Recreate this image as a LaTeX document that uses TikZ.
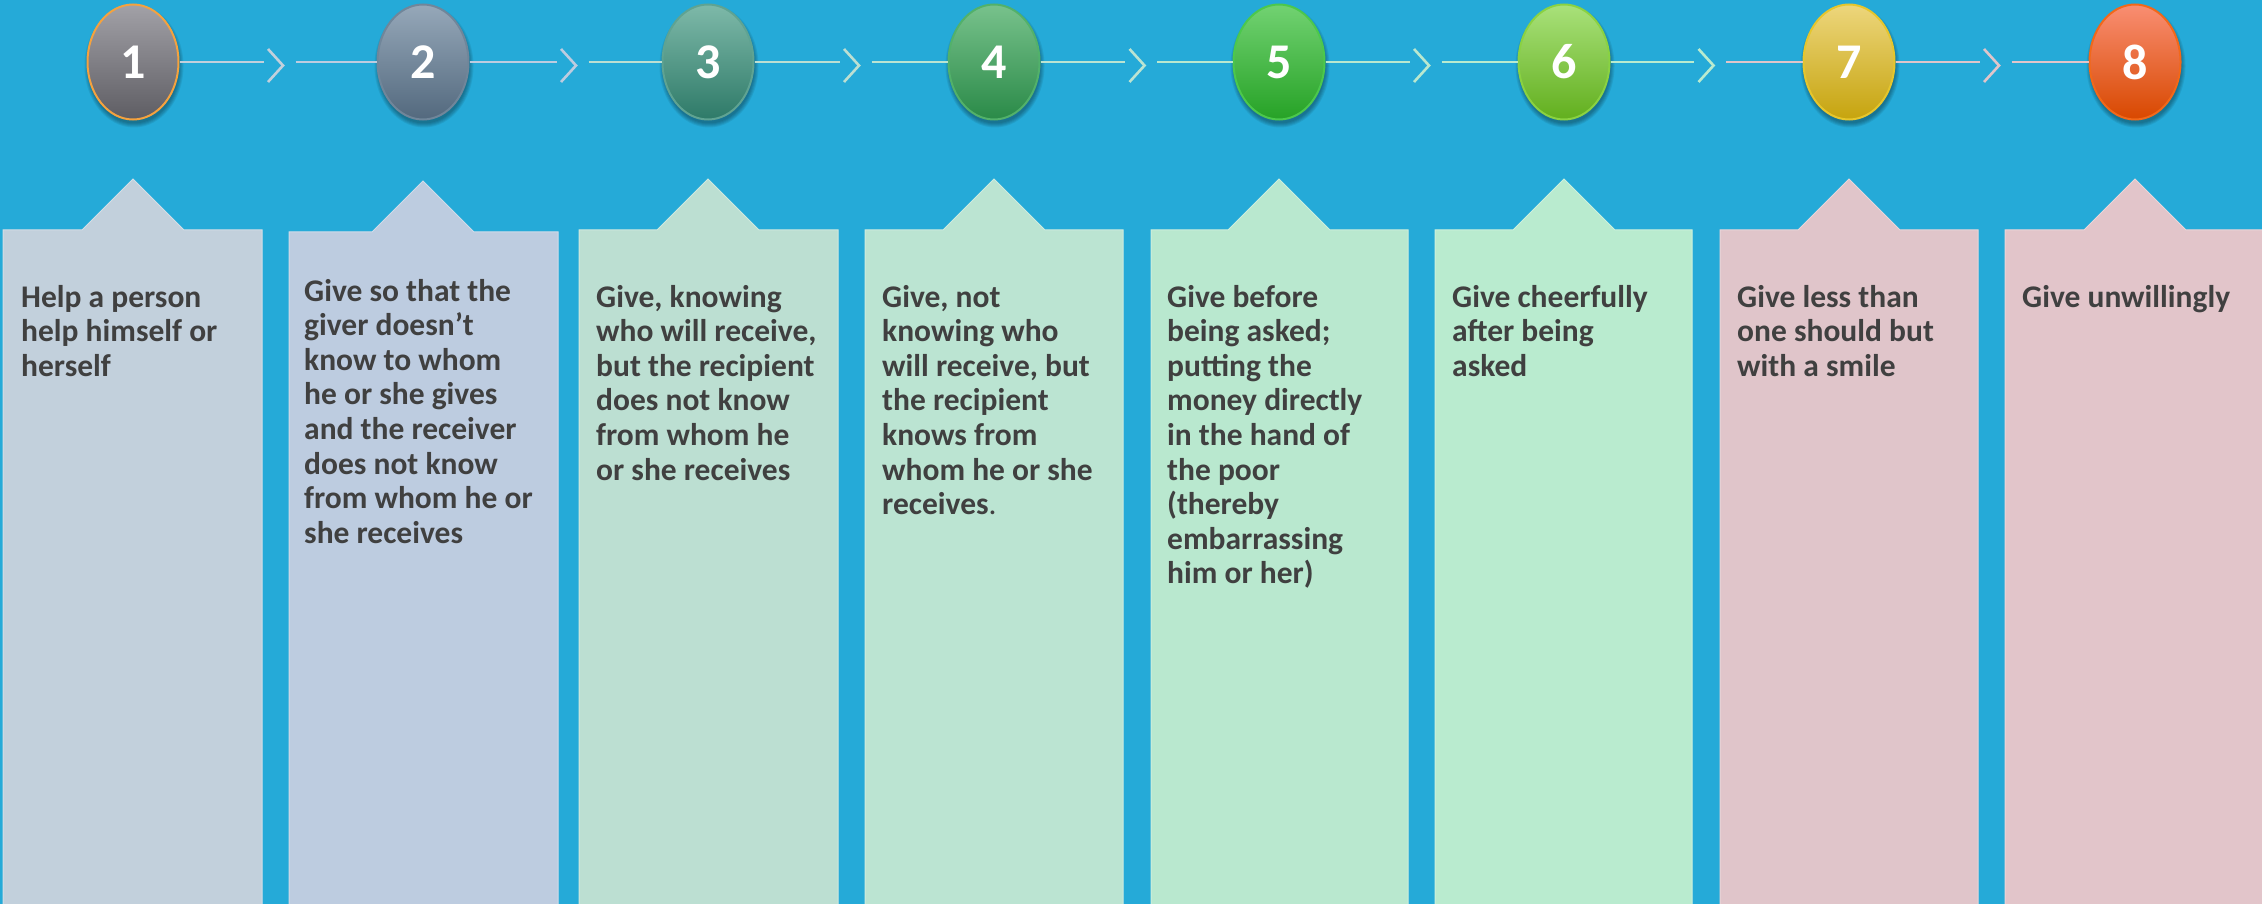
\documentclass[tikz,border=0pt]{standalone}
\usepackage{fontspec}
\setmainfont{Carlito}
\usetikzlibrary{shapes.geometric}
\definecolor{bg}{HTML}{25AAD8}
\definecolor{txt}{HTML}{404040}
\definecolor{box1}{HTML}{C2D0DC}
\definecolor{box2}{HTML}{BDCCE0}
\definecolor{box3}{HTML}{BCDFD2}
\definecolor{box4}{HTML}{BBE4D2}
\definecolor{box5}{HTML}{B9E8CF}
\definecolor{box6}{HTML}{B9EBCF}
\definecolor{box7}{HTML}{E0C5CA}
\definecolor{box8}{HTML}{E2C5CA}
\definecolor{t1}{HTML}{A2A1A7}\definecolor{b1}{HTML}{5E5D63}\definecolor{d1}{HTML}{F5A23E}
\definecolor{t2}{HTML}{96A8B9}\definecolor{b2}{HTML}{53697E}\definecolor{d2}{HTML}{70869A}
\definecolor{t3}{HTML}{7EB9A9}\definecolor{b3}{HTML}{2E7A68}\definecolor{d3}{HTML}{5FA392}
\definecolor{t4}{HTML}{78C28C}\definecolor{b4}{HTML}{2A8A48}\definecolor{d4}{HTML}{52B16A}
\definecolor{t5}{HTML}{72D272}\definecolor{b5}{HTML}{26A226}\definecolor{d5}{HTML}{4CC84C}
\definecolor{t6}{HTML}{A9E17A}\definecolor{b6}{HTML}{62AF1E}\definecolor{d6}{HTML}{8AD242}
\definecolor{t7}{HTML}{EDD67C}\definecolor{b7}{HTML}{C6A40E}\definecolor{d7}{HTML}{E6C62C}
\definecolor{t8}{HTML}{F98E72}\definecolor{b8}{HTML}{D84800}\definecolor{d8}{HTML}{F26819}
\tikzset{
  circ/.style={ellipse, minimum width=91pt, minimum height=115pt, inner sep=0pt,
    line width=2pt, text=white, font=\fontsize{50}{52}\selectfont\bfseries},
  boxtext/.style={anchor=base west, align=left, inner sep=0pt, text=txt,
    font=\fontsize{31.5}{34.6}\selectfont\bfseries},
  conn/.style={line width=2.6pt},
  chev/.style={line width=2.6pt, line join=miter}
}
\begin{document}
\begin{tikzpicture}[x=1pt,y=-1pt]
\fill[bg] (0,0) rectangle (2262,904);
\useasboundingbox (0,0) rectangle (2262,904);
% boxes
\foreach \i/\l/\r/\cx/\tp in {1/3/262/133/230, 2/289/558/423/232, 3/579/838/708/230,
  4/865/1123/994/230, 5/1151/1408/1279/230, 6/1435/1692/1564/230,
  7/1720/1978/1849/230, 8/2005/2275/2135/230}{
  \fill[box\i, draw=box\i!70!white, line width=1pt]
    (\l,906) -- (\l,\tp) -- (\cx-51,\tp) -- (\cx,\tp-51) -- (\cx+51,\tp) -- (\r,\tp) -- (\r,906) -- cycle;
}
% texts (anchored at the baseline of their last line)
\node[boxtext] (x1) at (21,376.2) {Help a person\\help himself or\\herself};
\node[boxtext] (x2) at (304,543.2) {Give so that the\\giver doesn’t\\know to whom\\he or she gives\\and the receiver\\does not know\\from whom he or\\she receives};
\node[boxtext] (x3) at (596,480) {Give, knowing\\who will receive,\\but the recipient\\does not know\\from whom he\\or she receives};
\node[boxtext] (x4) at (882,514.6) {Give, not\\knowing who\\will receive, but\\the recipient\\knows from\\whom he or she\\receives{\mdseries.}};
\node[boxtext] (x5) at (1167,583.8) {Give before\\being asked;\\putting the\\money directly\\in the hand of\\the poor\\(thereby\\embarrassing\\him or her)};
\node[boxtext] (x6) at (1452,376.2) {Give cheerfully\\after being\\asked};
\node[boxtext] (x7) at (1737,376.2) {Give less than\\one should but\\with a smile};
\node[boxtext] (x8) at (2022,307) {Give unwillingly};
% circle shadows
\foreach \cx in {133,423,708,994,1279,1564,1849,2135}{
  \foreach \k in {0,1,2,3,4}{
    \fill[black, opacity=0.07] (\cx+1,66) ellipse ({45.5+\k} and {57.5+\k});
  }
}
% circles
\foreach \i/\cx in {1/133,2/423,3/708,4/994,5/1279,6/1564,7/1849,8/2135}{
  \node[circ, top color=t\i, bottom color=b\i, draw=d\i] (c\i) at (\cx,62) {\i};
}
% connectors with chevrons
\foreach \i/\j/\g in {1/2/275.5, 2/3/568.5, 3/4/851.5, 4/5/1137, 5/6/1421.5,
  6/7/1706, 7/8/1991.5}{
  \coordinate (a\i) at (\g-12,62);
  \coordinate (p\i) at (\g-7.5,49);
  \coordinate (q\i) at (\g+7.5,65.5);
  \coordinate (s\i) at (\g-7.5,82);
  \coordinate (e\i) at (\g+20,62);
  \draw[conn, box\i] (c\i.east) -- (a\i);
  \draw[chev, box\i] (p\i) -- (q\i) -- (s\i);
  \draw[conn, box\j] (e\i) -- (c\j.west);
}
\end{tikzpicture}
\end{document}
